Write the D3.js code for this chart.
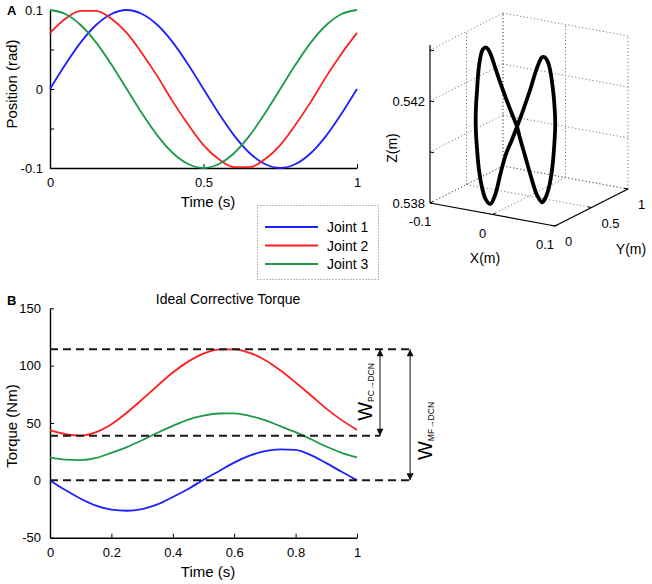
<!DOCTYPE html>
<html>
<head>
<meta charset="utf-8">
<script src="https://cdn.jsdelivr.net/npm/d3@7"></script>
<style>
  body { margin: 0; background: #fff; }
  text { font-family: "Liberation Sans", Arial, sans-serif; }
</style>
</head>
<body>
<div id="chart"></div>
<script>
"use strict";

// ---- panel A: joint positions (rad), sampled every 0.05 s ----
const timeA = [0, 0.05, 0.1, 0.15, 0.2, 0.25, 0.3, 0.35, 0.4, 0.45, 0.5,
  0.55, 0.6, 0.65, 0.7, 0.75, 0.8, 0.85, 0.9, 0.95, 1];
const joint1Pos = [0, 0.031, 0.059, 0.081, 0.095, 0.1, 0.095, 0.081, 0.059, 0.031, 0,
  -0.031, -0.059, -0.081, -0.095, -0.1, -0.095, -0.081, -0.059, -0.031, 0];
const joint2Pos = [0.071, 0.089, 0.099, 0.099, 0.089, 0.071, 0.045, 0.016, -0.016, -0.045, -0.071,
  -0.089, -0.099, -0.099, -0.089, -0.071, -0.045, -0.016, 0.016, 0.045, 0.071];
const joint3Pos = [0.1, 0.095, 0.081, 0.059, 0.031, 0, -0.031, -0.059, -0.081, -0.095, -0.1,
  -0.095, -0.081, -0.059, -0.031, 0, 0.031, 0.059, 0.081, 0.095, 0.1];
const posTicks = [-0.1, -0.05, 0, 0.05, 0.1];
const posTickLabels = ["-0.1", "", "0", "", "0.1"];
const timeTicksA = [0, 0.5, 1];
const legendLabels = ["Joint 1", "Joint 2", "Joint 3"];
const jointColors = ["#1f1fff", "#ff1f1f", "#1c9a4a"];

// ---- panel A: end effector trajectory (m), figure of eight ----
const trajPlaneY = 0.2;
const trajX = [0.016, 0.005, -0.007, -0.018, -0.026, -0.030, -0.034, -0.039, -0.043, -0.046, -0.048, -0.050,
  -0.050, -0.048, -0.045, -0.040, -0.034, -0.027, -0.019, -0.011, -0.002, 0.008,
  0.016, 0.025, 0.037, 0.046, 0.052, 0.056, 0.060, 0.065, 0.069, 0.072, 0.075, 0.077,
  0.075, 0.072, 0.067, 0.061, 0.056, 0.048, 0.038, 0.029, 0.022, 0.016];
const trajZ = [0.54124, 0.54185, 0.54258, 0.54331, 0.54386, 0.54404, 0.54411, 0.54400, 0.54365, 0.54310, 0.54239, 0.54159,
  0.54081, 0.54003, 0.53926, 0.53858, 0.53814, 0.53800, 0.53840, 0.53922, 0.54006, 0.54069,
  0.54124, 0.54187, 0.54278, 0.54354, 0.54395, 0.54413, 0.54415, 0.54400, 0.54366, 0.54320, 0.54257, 0.54160,
  0.54061, 0.53981, 0.53908, 0.53862, 0.53844, 0.53868, 0.53938, 0.54012, 0.54068, 0.54124];
const xTicks3d = [-0.1, 0, 0.1];
const xTickLabels3d = ["-0.1", "0", "0.1"];
const yTicks3d = [0, 0.5, 1];
const yTickLabels3d = ["0", "0.5", "1"];
const zTicks3d = [0.538, 0.540, 0.542, 0.544];
const zTickLabels3d = ["0.538", "", "0.542", ""];

// ---- panel B: ideal corrective torque (Nm) ----
const timeB = timeA;
const joint1Torque = [0, -8.5, -16, -22, -25.5, -26.5, -25, -21, -14.5, -7.5, 0.5,
  8, 15.5, 21.5, 25.5, 27, 26.5, 22, 15, 7.5, 0];
const joint2Torque = [43.5, 40.3, 39, 42, 49, 59, 70.5, 82.5, 94, 103.5, 110.5,
  114, 114.2, 111.2, 105, 96, 85.3, 74, 62.5, 52.5, 44];
const joint3Torque = [20, 18, 17.6, 19.5, 24, 29, 35, 41.5, 47.5, 53, 56.5,
  58.3, 58.4, 56.3, 52.5, 47.2, 42, 35.8, 29.5, 24, 20];
const torqueTicks = [-50, 0, 50, 100, 150];
const torqueTickLabels = ["-50", "0", "50", "100", "150"];
const timeTicksB = [0, 0.2, 0.4, 0.6, 0.8, 1];
const refLevels = [114.2, 38.8, 0];
const refEnds = [1.173, 1.075, 1.173];

const W = 652, H = 584;
const svg = d3.select("#chart").append("svg")
  .attr("width", W).attr("height", H)
  .attr("viewBox", `0 0 ${W} ${H}`);

const FONT = "Liberation Sans, Arial, sans-serif";

const styleAxis = (g, size) => {
  g.attr("font-family", FONT).attr("font-size", size);
  g.select(".domain").attr("stroke", "#000").attr("stroke-width", 1.4);
  g.selectAll(".tick line").attr("stroke", "#000").attr("stroke-width", 1);
  g.selectAll(".tick text").attr("fill", "#000");
};

// ================= Panel A: position vs time =================
const xA = d3.scaleLinear().domain([0, 1]).range([50, 357]);
const yA = d3.scaleLinear().domain([-0.1, 0.1]).range([168, 10]);

svg.append("g")
  .attr("transform", `translate(0,${yA(-0.1)})`)
  .call(d3.axisBottom(xA).tickValues(timeTicksA).tickFormat(d3.format("~g"))
    .tickSizeInner(-4).tickSizeOuter(0).tickPadding(10))
  .call(g => styleAxis(g, 13));

svg.append("g")
  .attr("transform", `translate(${xA(0)},0)`)
  .call(d3.axisLeft(yA).tickValues(posTicks).tickFormat((d, i) => posTickLabels[i])
    .tickSizeInner(-4).tickSizeOuter(0).tickPadding(7))
  .call(g => styleAxis(g, 13));

const lineA = d3.line()
  .x((d, i) => xA(timeA[i]))
  .y(d => yA(d))
  .curve(d3.curveMonotoneX);

[joint1Pos, joint2Pos, joint3Pos].forEach((series, k) => {
  svg.append("path")
    .datum(series)
    .attr("d", lineA)
    .attr("fill", "none")
    .attr("stroke", jointColors[k])
    .attr("stroke-width", 1.8);
});

svg.append("text")
  .attr("x", 208).attr("y", 207)
  .attr("text-anchor", "middle")
  .attr("font-size", 15)
  .text("Time (s)");

svg.append("text")
  .attr("transform", "translate(17,84) rotate(-90)")
  .attr("text-anchor", "middle")
  .attr("font-size", 15)
  .text("Position (rad)");

svg.append("text")
  .attr("x", 7).attr("y", 15)
  .attr("font-size", 13).attr("font-weight", "bold")
  .text("A");

// legend
const legend = svg.append("g");
legend.append("rect")
  .attr("x", 257.5).attr("y", 205.5)
  .attr("width", 121).attr("height", 74)
  .attr("fill", "none")
  .attr("stroke", "#777")
  .attr("stroke-dasharray", "1,2");

legendLabels.forEach((label, k) => {
  const ly = 227 + k * 18.5;
  legend.append("line")
    .attr("x1", 265).attr("x2", 318)
    .attr("y1", ly).attr("y2", ly)
    .attr("stroke", jointColors[k])
    .attr("stroke-width", 2);
  legend.append("text")
    .attr("x", 327).attr("y", ly + 5)
    .attr("font-size", 14)
    .text(label);
});

// ================= Panel A: 3D trajectory =================
const originX = 430, originY = 203;
const pxH = d3.scaleLinear().domain([-0.1, 0.1]).range([0, 125]);
const pxV = d3.scaleLinear().domain([-0.1, 0.1]).range([0, 23]);
const pyH = d3.scaleLinear().domain([0, 1]).range([0, 73]);
const pyV = d3.scaleLinear().domain([0, 1]).range([0, -37]);
const pzV = d3.scaleLinear().domain([0.538, 0.544]).range([0, -153]);

const project = (x, y, z) => [originX + pxH(x) + pyH(y), originY + pxV(x) + pyV(y) + pzV(z)];

const view = svg.append("g");
const gridSegs = [];
// left wall (x = -0.1)
[0.5, 1].forEach(y => gridSegs.push([project(-0.1, y, 0.538), project(-0.1, y, 0.544)]));
zTicks3d.forEach(z => gridSegs.push([project(-0.1, 0, z), project(-0.1, 1, z)]));
// back wall (y = 1)
xTicks3d.forEach(x => gridSegs.push([project(x, 1, 0.538), project(x, 1, 0.544)]));
zTicks3d.forEach(z => gridSegs.push([project(-0.1, 1, z), project(0.1, 1, z)]));
// floor (z = 0.538)
xTicks3d.forEach(x => gridSegs.push([project(x, 0, 0.538), project(x, 1, 0.538)]));
[0.5, 1].forEach(y => gridSegs.push([project(-0.1, y, 0.538), project(0.1, y, 0.538)]));

view.selectAll(".grid3d")
  .data(gridSegs)
  .enter()
  .append("line")
  .attr("class", "grid3d")
  .attr("x1", d => d[0][0]).attr("y1", d => d[0][1])
  .attr("x2", d => d[1][0]).attr("y2", d => d[1][1])
  .attr("stroke", "#666")
  .attr("stroke-width", 1)
  .attr("stroke-dasharray", "1,2.5");

// solid axes
const axisSegs = [
  [project(-0.1, 0, 0.538), project(-0.1, 0, 0.5442)],
  [project(-0.1, 0, 0.538), project(0.1, 0, 0.538)],
  [project(0.1, 0, 0.538), project(0.1, 1, 0.538)]
];
view.selectAll(".axis3d")
  .data(axisSegs)
  .enter()
  .append("line")
  .attr("x1", d => d[0][0]).attr("y1", d => d[0][1])
  .attr("x2", d => d[1][0]).attr("y2", d => d[1][1])
  .attr("stroke", "#000")
  .attr("stroke-width", 1.2);

// ticks and tick labels
zTicks3d.forEach((z, i) => {
  const p = project(-0.1, 0, z);
  view.append("line")
    .attr("x1", p[0]).attr("y1", p[1]).attr("x2", p[0] + 4).attr("y2", p[1] + 0.7)
    .attr("stroke", "#000");
  view.append("text")
    .attr("x", p[0] - 5).attr("y", p[1] + 4.5)
    .attr("text-anchor", "end")
    .attr("font-size", 13)
    .text(zTickLabels3d[i]);
});
xTicks3d.forEach((x, i) => {
  const p = project(x, 0, 0.538);
  view.append("line")
    .attr("x1", p[0]).attr("y1", p[1]).attr("x2", p[0] + 3).attr("y2", p[1] - 1.5)
    .attr("stroke", "#000");
  view.append("text")
    .attr("x", p[0] - 10).attr("y", p[1] + 23)
    .attr("text-anchor", "middle")
    .attr("font-size", 13)
    .text(xTickLabels3d[i]);
});
yTicks3d.forEach((y, i) => {
  const p = project(0.1, y, 0.538);
  view.append("line")
    .attr("x1", p[0]).attr("y1", p[1]).attr("x2", p[0] - 4).attr("y2", p[1] - 0.7)
    .attr("stroke", "#000");
  view.append("text")
    .attr("x", p[0] + 10).attr("y", p[1] + 20)
    .attr("text-anchor", "start")
    .attr("font-size", 13)
    .text(yTickLabels3d[i]);
});

view.append("text")
  .attr("x", 485).attr("y", 263)
  .attr("text-anchor", "middle")
  .attr("font-size", 14)
  .text("X(m)");
view.append("text")
  .attr("x", 631).attr("y", 254)
  .attr("text-anchor", "middle")
  .attr("font-size", 14)
  .text("Y(m)");
view.append("text")
  .attr("transform", "translate(397,148) rotate(-90)")
  .attr("text-anchor", "middle")
  .attr("font-size", 14)
  .text("Z(m)");

const trajLine = d3.line()
  .x((d, i) => project(trajX[i], trajPlaneY, trajZ[i])[0])
  .y((d, i) => project(trajX[i], trajPlaneY, trajZ[i])[1])
  .curve(d3.curveCatmullRom);

view.append("path")
  .datum(trajX)
  .attr("d", trajLine)
  .attr("fill", "none")
  .attr("stroke", "#000")
  .attr("stroke-width", 3.8)
  .attr("stroke-linejoin", "round");

// ================= Panel B: torque =================
const xB = d3.scaleLinear().domain([0, 1]).range([50, 357]);
const yB = d3.scaleLinear().domain([-50, 150]).range([537.7, 308.3]);

svg.append("g")
  .attr("transform", `translate(0,${yB(-50)})`)
  .call(d3.axisBottom(xB).tickValues(timeTicksB).tickFormat(d3.format("~g"))
    .tickSizeInner(-4).tickSizeOuter(0).tickPadding(10))
  .call(g => styleAxis(g, 13));

svg.append("g")
  .attr("transform", `translate(${xB(0)},0)`)
  .call(d3.axisLeft(yB).tickValues(torqueTicks).tickFormat((d, i) => torqueTickLabels[i])
    .tickSizeInner(-4).tickSizeOuter(0).tickPadding(9))
  .call(g => styleAxis(g, 13));

const lineB = d3.line()
  .x((d, i) => xB(timeB[i]))
  .y(d => yB(d))
  .curve(d3.curveMonotoneX);

[joint1Torque, joint2Torque, joint3Torque].forEach((series, k) => {
  svg.append("path")
    .datum(series)
    .attr("d", lineB)
    .attr("fill", "none")
    .attr("stroke", jointColors[k])
    .attr("stroke-width", 1.8);
});

// dashed reference levels
refLevels.forEach((v, i) => {
  svg.append("line")
    .attr("x1", xB(0)).attr("x2", xB(refEnds[i]))
    .attr("y1", yB(v)).attr("y2", yB(v))
    .attr("stroke", "#1a1a1a")
    .attr("stroke-width", 2)
    .attr("stroke-dasharray", "8,5");
});

svg.append("defs").append("marker")
  .attr("id", "head")
  .attr("viewBox", "0 0 10 10")
  .attr("refX", 10).attr("refY", 5)
  .attr("markerWidth", 8).attr("markerHeight", 7)
  .attr("markerUnits", "userSpaceOnUse")
  .attr("orient", "auto-start-reverse")
  .append("path")
  .attr("d", "M0,0 L10,5 L0,10 Z")
  .attr("fill", "#111");

const arrows = [
  { x: refEnds[1], from: refLevels[0], to: refLevels[1] },
  { x: refEnds[0], from: refLevels[0], to: refLevels[2] }
];
arrows.forEach(a => {
  svg.append("line")
    .attr("x1", xB(a.x)).attr("x2", xB(a.x))
    .attr("y1", yB(a.from)).attr("y2", yB(a.to))
    .attr("stroke", "#111")
    .attr("stroke-width", 1)
    .attr("marker-start", "url(#head)")
    .attr("marker-end", "url(#head)");
});

const wLabel = (x, y, sub) => {
  const t = svg.append("text")
    .attr("transform", `translate(${x},${y}) rotate(-90)`)
    .attr("text-anchor", "middle");
  t.append("tspan").attr("font-size", 20).text("W");
  t.append("tspan").attr("font-size", 8.5).attr("dy", 2).text(sub);
};
wLabel(xB(refEnds[1]) - 8, 392, "PC\u2192DCN");
wLabel(xB(refEnds[0]) + 22, 431, "MF\u2192DCN");

svg.append("text")
  .attr("x", 228).attr("y", 304)
  .attr("text-anchor", "middle")
  .attr("font-size", 14)
  .text("Ideal Corrective Torque");

svg.append("text")
  .attr("x", 208).attr("y", 577)
  .attr("text-anchor", "middle")
  .attr("font-size", 15)
  .text("Time (s)");

svg.append("text")
  .attr("transform", "translate(17,426) rotate(-90)")
  .attr("text-anchor", "middle")
  .attr("font-size", 15)
  .text("Torque (Nm)");

svg.append("text")
  .attr("x", 7).attr("y", 305)
  .attr("font-size", 13).attr("font-weight", "bold")
  .text("B");
</script>
</body>
</html>
